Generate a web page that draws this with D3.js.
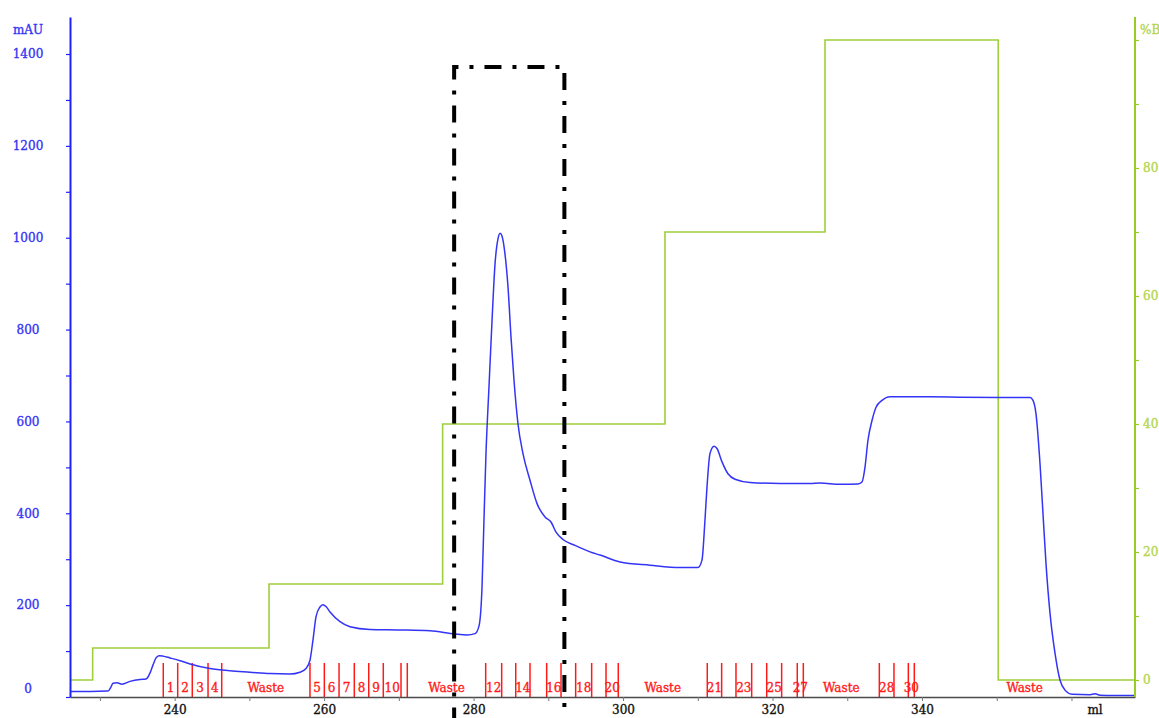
<!DOCTYPE html>
<html>
<head>
<meta charset="utf-8">
<script src="https://cdn.jsdelivr.net/npm/d3@7/dist/d3.min.js"></script>
<style>
  html, body { margin: 0; padding: 0; background: #fff; }
  svg { display: block; }
  svg text { paint-order: stroke; stroke-width: 0.35px; }
</style>
</head>
<body>
<svg id="chart" width="1159" height="718"></svg>
<script>
// UV absorbance trace (mAU) against elution volume (ml)
const uvVolume = [
  226.0, 228.68, 231.08, 231.49, 231.75, 232.29, 232.96, 234.03, 235.37, 236.17,
  236.70, 237.11, 237.51, 237.91, 238.44, 239.38, 240.72, 242.06, 244.73, 247.41,
  250.08, 252.76, 255.44, 256.77, 257.58, 258.11, 258.51, 258.92, 259.45, 259.85,
  260.25, 260.79, 262.13, 263.46, 266.14, 270.15, 274.17, 277.51, 279.12, 280.19,
  280.73, 281.13, 281.39, 281.66, 282.06, 282.47, 282.87, 283.27, 283.54, 283.80,
  284.20, 284.61, 285.01, 285.41, 285.94, 286.61, 287.55, 288.49, 289.56, 290.36,
  291.03, 291.96, 293.57, 295.58, 296.92, 299.59, 303.61, 307.62, 310.03, 310.56,
  310.96, 311.23, 311.63, 312.17, 312.57, 313.24, 314.04, 314.98, 316.99, 321.00,
  325.01, 326.35, 329.03, 331.44, 331.97, 332.37, 332.77, 333.31, 333.85, 334.65,
  335.72, 337.06, 343.75, 350.44, 354.45, 354.85, 355.25, 355.79, 356.19, 356.59,
  357.13, 357.80, 358.46, 359.13, 360.07, 362.48, 363.15, 363.82, 368.5
];
const uvAbsorbance = [
  12, 12, 13, 22, 30, 31, 28, 34, 38, 39,
  52, 70, 85, 90, 89, 85, 79, 72, 62, 57,
  54, 51, 50, 54, 62, 80, 124, 175, 196, 201,
  197, 185, 164, 153, 147, 146, 144, 137, 135, 138,
  155, 240, 385, 530, 675, 820, 943, 998, 1010, 1004,
  965, 892, 783, 689, 595, 530, 472, 421, 392, 381,
  359, 343, 330, 316, 309, 294, 287, 282, 282, 298,
  385, 457, 530, 546, 541, 512, 486, 474, 467, 465,
  465, 466, 463, 464, 468, 500, 559, 602, 631, 646,
  654, 654, 653, 652, 652, 646, 617, 508, 399, 291,
  182, 95, 37, 15, 6, 5, 7, 4, 3
];

// Step gradient of buffer B (%)
const gradientVolume = [226.0, 229.03, 252.63, 275.86, 305.61, 327.02, 350.2, 368.5];
const gradientPercentB = [0, 5, 15, 40, 70, 100, 0, 0];

// Fraction collector marks: start volume of each fraction and the label drawn for it
const fractionStart = [
  238.48, 240.41, 242.36, 244.47, 246.30,
  258.11, 260.03, 262.00, 264.04, 265.97, 267.92, 270.29, 271.13,
  281.62, 283.76, 285.64, 287.55, 289.78, 291.70, 293.66, 295.80, 297.72, 299.36,
  311.27, 313.19, 315.11, 317.21, 319.22, 321.22, 323.31, 324.12,
  334.29, 336.25, 338.17, 338.97
];
const fractionLabel = [
  "1", "2", "3", "4", "Waste",
  "5", "6", "7", "8", "9", "10", "", "Waste",
  "12", "", "14", "", "16", "", "18", "", "20", "Waste",
  "21", "", "23", "", "25", "", "27", "Waste",
  "28", "", "30", "Waste"
];

// Axis ticks
const volumeTicks = [230, 240, 250, 260, 270, 280, 290, 300, 310, 320, 330, 340, 350, 360];
const volumeTickLabels = [240, 260, 280, 300, 320, 340];
const volumeUnit = "ml";
const absorbanceTicks = [0, 100, 200, 300, 400, 500, 600, 700, 800, 900, 1000, 1100, 1200, 1300, 1400];
const absorbanceTickLabels = [0, 200, 400, 600, 800, 1000, 1200, 1400];
const absorbanceUnit = "mAU";
const percentTicks = [0, 10, 20, 30, 40, 50, 60, 70, 80, 90, 100];
const percentTickLabels = [0, 20, 40, 60, 80];
const percentUnit = "%B";

// Highlighted pooling window (ml range, upper edge in mAU)
const poolStart = 277.4;
const poolEnd = 292.15;
const poolTop = 1372;

// ---------- layout ----------
const svg = d3.select("#chart");
const W = 1159, H = 718;
const plotLeft = 70, plotRight = 1135, plotBottom = 697, plotTop = 17;
const font = "'DejaVu Serif', serif";
const blue = "#3434f6";
const green = "#9fcf3a";
const greenText = "#b4d64c";
const red = "#ff1a1a";

svg.append("rect").attr("width", W).attr("height", H).attr("fill", "#fff");

const x = d3.scaleLinear().domain([226, 368.5]).range([plotLeft, plotRight]);
const yUV = d3.scaleLinear().domain([0, 1480.6]).range([plotBottom, plotTop]);
const yB = d3.scaleLinear().domain([0, 100]).range([680, 40]);

// ---------- gradient step line ----------
const gradData = gradientVolume.map((v, i) => [v, gradientPercentB[i]]);
svg.append("path")
  .datum(gradData)
  .attr("fill", "none")
  .attr("stroke", green)
  .attr("stroke-width", 1.6)
  .attr("d", d3.line().x(d => x(d[0])).y(d => yB(d[1])).curve(d3.curveStepAfter));

// ---------- fraction marks ----------
const fracG = svg.append("g");
fractionStart.forEach((s, i) => {
  fracG.append("line")
    .attr("x1", x(s)).attr("x2", x(s))
    .attr("y1", plotBottom - 34).attr("y2", plotBottom)
    .attr("stroke", red).attr("stroke-width", 1.5);
  const e = i + 1 < fractionStart.length ? fractionStart[i + 1] : x.domain()[1];
  if (fractionLabel[i]) {
    fracG.append("text")
      .attr("x", x((s + e) / 2))
      .attr("y", 688)
      .attr("dy", "0.36em")
      .attr("text-anchor", "middle")
      .attr("font-family", font)
      .attr("font-size", 12)
      .attr("fill", red)
      .attr("stroke", red)
      .text(fractionLabel[i]);
  }
});

// ---------- UV trace ----------
const uvData = uvVolume.map((v, i) => [v, uvAbsorbance[i]]);
svg.append("path")
  .datum(uvData)
  .attr("fill", "none")
  .attr("stroke", blue)
  .attr("stroke-width", 1.5)
  .attr("stroke-linejoin", "round")
  .attr("d", d3.line().x(d => x(d[0])).y(d => yUV(d[1])).curve(d3.curveMonotoneX));

// ---------- bottom axis ----------
const xAxis = d3.axisBottom(x)
  .tickValues(volumeTicks)
  .tickSize(4)
  .tickSizeOuter(0)
  .tickFormat(d => volumeTickLabels.includes(d) ? d : "");
const gx = svg.append("g").attr("transform", `translate(0,${plotBottom})`).call(xAxis);
gx.select(".domain").attr("stroke", "#4a4a4a").attr("stroke-width", 1.6);
gx.selectAll(".tick line").attr("stroke", "#777").attr("stroke-width", 1);
gx.selectAll(".tick text")
  .attr("font-family", font).attr("font-size", 12).attr("fill", "#111")
  .attr("stroke", "#111").attr("y", 8);
gx.append("text")
  .attr("x", 1095).attr("y", 8).attr("dy", "0.71em")
  .attr("text-anchor", "middle")
  .attr("font-family", font).attr("font-size", 12).attr("fill", "#111").attr("stroke", "#111")
  .text(volumeUnit);

// ---------- left axis ----------
const yAxisL = d3.axisLeft(yUV)
  .tickValues(absorbanceTicks)
  .tickSize(4)
  .tickSizeOuter(0)
  .tickFormat(d => absorbanceTickLabels.includes(d) ? d : "");
const gl = svg.append("g").attr("transform", `translate(${plotLeft},0)`).call(yAxisL);
gl.select(".domain").attr("stroke", "#2020ff").attr("stroke-width", 2);
gl.selectAll(".tick line").attr("stroke", "#2020ff").attr("stroke-width", 1.2);
gl.selectAll(".tick text")
  .attr("font-family", font).attr("font-size", 12).attr("fill", blue).attr("stroke", blue)
  .attr("text-anchor", "middle").attr("x", 28 - plotLeft)
  .attr("dy", d => d === 0 ? "-0.4em" : "0.32em");
gl.append("text")
  .attr("x", 28 - plotLeft).attr("y", 30).attr("dy", "0.32em")
  .attr("text-anchor", "middle")
  .attr("font-family", font).attr("font-size", 12).attr("fill", blue).attr("stroke", blue)
  .text(absorbanceUnit);

// ---------- right axis ----------
const yAxisR = d3.axisRight(yB)
  .tickValues(percentTicks)
  .tickSize(4)
  .tickSizeOuter(0)
  .tickFormat(d => percentTickLabels.includes(d) ? d : "");
const gr = svg.append("g").attr("transform", `translate(${plotRight},0)`).call(yAxisR);
gr.select(".domain").remove();
gr.insert("line", ":first-child")
  .attr("x1", 0).attr("x2", 0).attr("y1", plotTop).attr("y2", plotBottom)
  .attr("stroke", "#99cc22").attr("stroke-width", 2);
gr.selectAll(".tick line").attr("stroke", "#99cc22").attr("stroke-width", 1.2);
gr.selectAll(".tick text")
  .attr("font-family", font).attr("font-size", 12).attr("fill", greenText)
  .attr("stroke", greenText).attr("x", 8);
gr.append("text")
  .attr("x", 5).attr("y", 30).attr("dy", "0.32em")
  .attr("font-family", font).attr("font-size", 12).attr("fill", greenText).attr("stroke", greenText)
  .text(percentUnit);

// ---------- pooling window (dash-dot outline) ----------
const bx0 = x(poolStart), bx1 = x(poolEnd), by = yUV(poolTop), byBottom = yUV(-60);
svg.append("path")
  .attr("d", `M${bx0},${byBottom}L${bx0},${by}L${bx1},${by}L${bx1},${byBottom}`)
  .attr("fill", "none")
  .attr("stroke", "#000")
  .attr("stroke-width", 4)
  .attr("stroke-dasharray", "17,11,4,11");
</script>
</body>
</html>
